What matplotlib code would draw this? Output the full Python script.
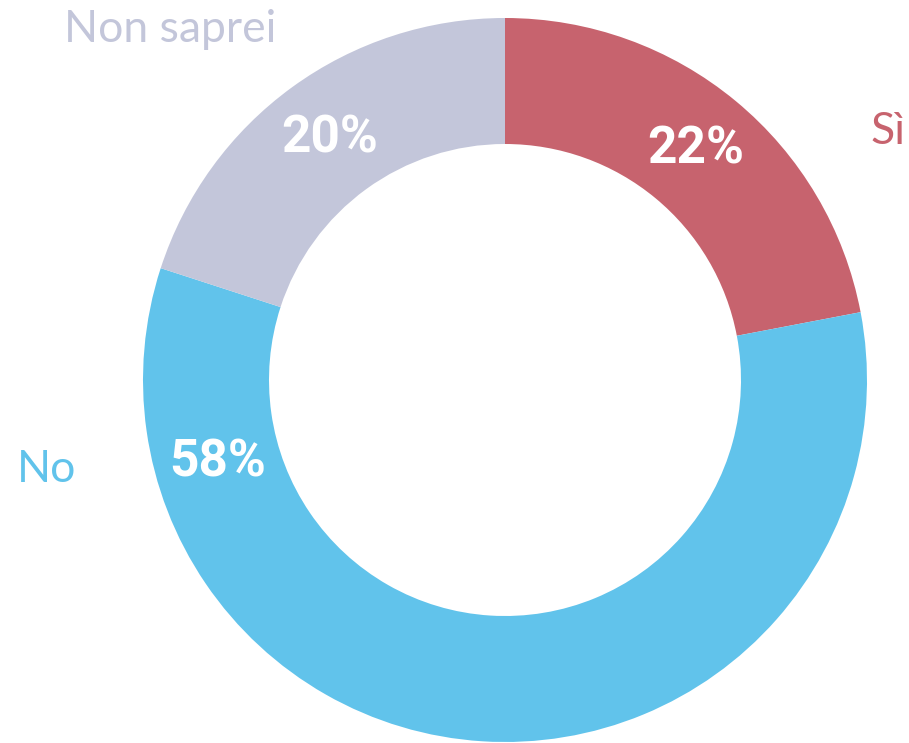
import numpy as np
import matplotlib
matplotlib.use("Agg")
import matplotlib.pyplot as plt

categories = ["Sì", "No", "Non saprei"]
values = [22, 58, 20]
colors = ["#C7636E", "#61C3EB", "#C3C6DA"]
pct_labels = ["22%", "58%", "20%"]

W, H = 909, 743
fig = plt.figure(figsize=(W / 100, H / 100), dpi=100)
ax = fig.add_axes([0, 0, 1, 1])

cx, cy = 505, H - 380
R = 362
ring = 126

wedges, _ = ax.pie(values, colors=colors, startangle=90, counterclock=False,
                   center=(cx, cy), radius=R, frame=True,
                   wedgeprops=dict(width=ring, linewidth=0))
ax.set_xlim(0, W)
ax.set_ylim(0, H)
ax.set_aspect("equal")
ax.axis("off")

# percent labels on the ring
mid_r = R - ring / 2
angles = [50.4, 196.0, 126.0]
for lab, ang in zip(pct_labels, angles):
    a = np.deg2rad(ang)
    ax.text(cx + mid_r * np.cos(a), cy + mid_r * np.sin(a), lab,
            ha="center", va="center", color="white", fontsize=37,
            fontweight="bold", family=["Roboto", "DejaVu Sans"])

# category labels
outer = [(888, 132), (47, 470), (170, 30)]
for (x, y), cat, col in zip(outer, categories, colors):
    ax.text(x, H - y, cat, ha="center", va="center", color=col, fontsize=32,
            family=["Lato", "DejaVu Sans"], fontweight="normal")

fig.savefig("out.png", dpi=100)
